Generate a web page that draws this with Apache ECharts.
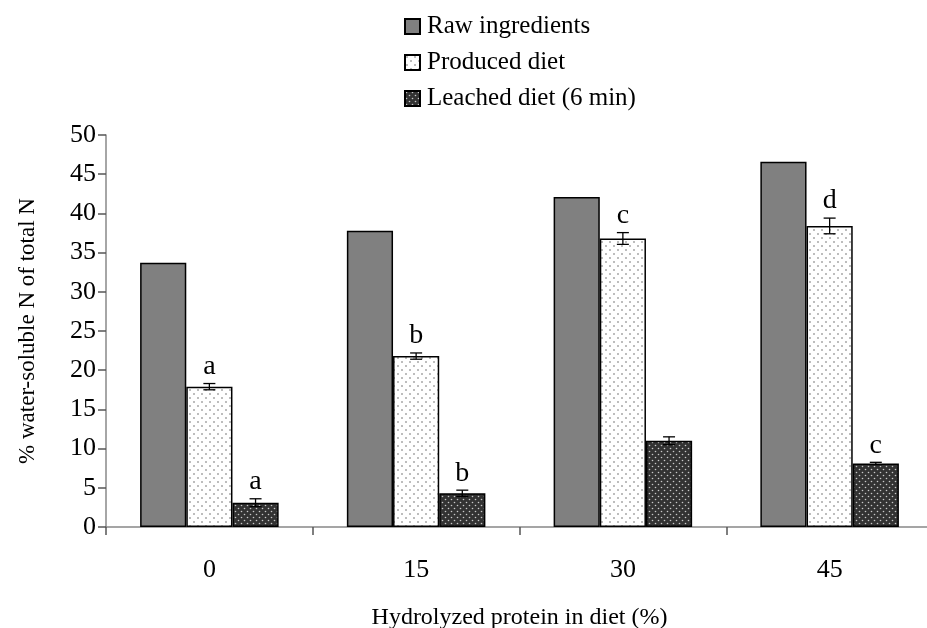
<!DOCTYPE html>
<html>
<head>
<meta charset="utf-8">
<script src="https://cdn.jsdelivr.net/npm/echarts@6/dist/echarts.min.js"></script>
<style>
  html, body { margin: 0; padding: 0; background: #fff; }
  #chart { width: 927px; height: 628px; }
</style>
</head>
<body>
<div id="chart"></div>
<script>
// Hydrolyzed protein level in diet (%)
const categories = ['0', '15', '30', '45'];

// % water-soluble N of total N
const rawIngredients = [33.7, 37.8, 42.1, 46.6];
const producedDiet = [17.9, 21.8, 36.8, 38.4];
const producedErr = [0.4, 0.4, 0.75, 1.0];
const leachedDiet = [3.1, 4.3, 11.0, 8.1];
const leachedErr = [0.5, 0.4, 0.5, 0.15];

// Significance letters
const producedLetters = ['a', 'b', 'c', 'd'];
const leachedLetters = ['a', 'b', '', 'c'];

const yTicks = [0, 5, 10, 15, 20, 25, 30, 35, 40, 45, 50];

const FONT = '"Liberation Serif", "Times New Roman", serif';
const GAP = 0.33;

// Dotted fill tiles for the diet bars
function dotTile(size, bg, dot, dots, r) {
  const c = document.createElement('canvas');
  c.width = size; c.height = size;
  const g = c.getContext('2d');
  g.fillStyle = bg; g.fillRect(0, 0, size, size);
  g.fillStyle = dot;
  dots.forEach(function (p) {
    g.beginPath(); g.arc(p[0], p[1], r, 0, Math.PI * 2); g.fill();
  });
  return c;
}
const producedFill = { image: dotTile(8, '#ffffff', '#6a6a6a', [[2, 2], [6, 6]], 0.8), repeat: 'repeat' };
const leachedFill = { image: dotTile(6, '#333333', '#c8c8c8', [[1.5, 1.5], [4.5, 4.5]], 0.8), repeat: 'repeat' };

// Error bar with letter, offset to sit over the matching bar in the group
function errorSeries(values, errs, letters, slot) {
  return {
    type: 'custom',
    z: 5,
    silent: true,
    data: values.map(function (v, i) { return [i, v, errs[i], letters[i]]; }),
    renderItem: function (params, api) {
      const band = api.size([1, 0])[0];
      const bw = band * (1 - GAP) / 3;
      const c = api.coord([api.value(0), api.value(1)]);
      const x = c[0] + slot * bw;
      const e = api.value(2);
      const top = api.coord([api.value(0), api.value(1) + e])[1];
      const bot = api.coord([api.value(0), api.value(1) - e])[1];
      const cap = 6;
      const st = { stroke: '#000', lineWidth: 1.3 };
      const children = [
        { type: 'line', shape: { x1: x, y1: top, x2: x, y2: bot }, style: st },
        { type: 'line', shape: { x1: x - cap, y1: top, x2: x + cap, y2: top }, style: st },
        { type: 'line', shape: { x1: x - cap, y1: bot, x2: x + cap, y2: bot }, style: st }
      ];
      const letter = letters[params.dataIndex];
      if (letter) {
        children.push({
          type: 'text',
          style: {
            x: x, y: top - 3, text: letter,
            font: '28px ' + FONT, fill: '#000',
            align: 'center', verticalAlign: 'bottom'
          }
        });
      }
      return { type: 'group', children: children };
    }
  };
}

const chart = echarts.init(document.getElementById('chart'), null, { renderer: 'canvas' });

chart.setOption({
  animation: false,
  backgroundColor: '#ffffff',
  textStyle: { fontFamily: FONT, color: '#000' },
  legend: {
    orient: 'vertical',
    left: 399,
    top: 9,
    itemWidth: 15,
    itemHeight: 15,
    itemGap: 11,
    icon: 'rect',
    textStyle: { fontFamily: FONT, fontSize: 25, color: '#000', padding: [0, 0, 0, 2] },
    data: ['Raw ingredients', 'Produced diet', 'Leached diet (6 min)']
  },
  grid: {
    left: 106, top: 135, bottom: 101, width: 827,
    containLabel: false,
    outerBoundsMode: 'none'
  },
  xAxis: {
    type: 'category',
    data: categories,
    name: 'Hydrolyzed protein in diet (%)',
    nameLocation: 'middle',
    nameGap: 79,
    nameTextStyle: { fontFamily: FONT, fontSize: 24, color: '#000' },
    axisLine: { lineStyle: { color: '#888', width: 1.5 } },
    axisTick: { show: true, length: 8, lineStyle: { color: '#555', width: 1.5 } },
    axisLabel: { fontFamily: FONT, fontSize: 26, color: '#000', margin: 30 }
  },
  yAxis: {
    type: 'value',
    min: yTicks[0],
    max: yTicks[yTicks.length - 1],
    interval: 5,
    name: '% water-soluble N of total N',
    nameLocation: 'middle',
    nameGap: 67,
    nameTextStyle: { fontFamily: FONT, fontSize: 23, color: '#000' },
    axisLine: { show: true, lineStyle: { color: '#888', width: 1.5 } },
    axisTick: { show: true, length: 8, lineStyle: { color: '#555', width: 1.5 } },
    splitLine: { show: false },
    axisLabel: { fontFamily: FONT, fontSize: 26, color: '#000', margin: 10 }
  },
  series: [
    {
      name: 'Raw ingredients',
      type: 'bar',
      data: rawIngredients,
      barGap: '0%',
      barCategoryGap: (GAP * 100) + '%',
      itemStyle: { color: '#808080', borderColor: '#000', borderWidth: 1.5 }
    },
    {
      name: 'Produced diet',
      type: 'bar',
      data: producedDiet,
      itemStyle: { color: producedFill, borderColor: '#000', borderWidth: 1.5 }
    },
    {
      name: 'Leached diet (6 min)',
      type: 'bar',
      data: leachedDiet,
      itemStyle: { color: leachedFill, borderColor: '#000', borderWidth: 1.5 }
    },
    errorSeries(producedDiet, producedErr, producedLetters, 0),
    errorSeries(leachedDiet, leachedErr, leachedLetters, 1)
  ]
});
</script>
</body>
</html>
